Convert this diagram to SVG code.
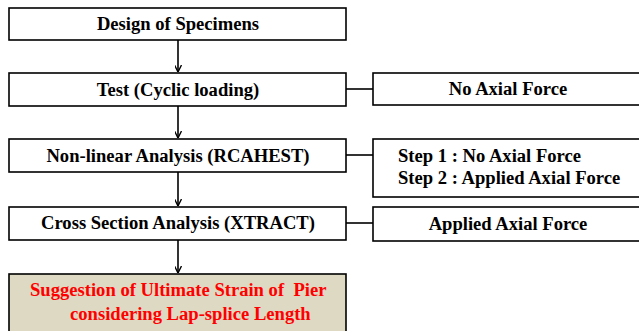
<svg xmlns="http://www.w3.org/2000/svg" width="639" height="331" viewBox="0 0 639 331">
<defs>
<style>
.box{fill:#fff;stroke:#000;stroke-width:1.6}
.t{font-family:"Liberation Serif","Times New Roman",serif;font-weight:bold;font-size:18.6px;fill:#000}
.c{text-anchor:middle}
.red{fill:#ff0000}
.ln{stroke:#000;stroke-width:1.6;fill:none}
</style>
<marker id="ah" viewBox="0 0 10 10" refX="10" refY="5" markerWidth="7" markerHeight="7" orient="auto" markerUnits="userSpaceOnUse">
<path d="M0,0 L10,5 L0,10" fill="none" stroke="#000" stroke-width="2"/>
</marker>
</defs>
<rect width="639" height="331" fill="#fff"/>
<g id="connectors">
<line class="ln" x1="178" y1="40" x2="178" y2="72" marker-end="url(#ah)"/>
<line class="ln" x1="178" y1="106" x2="178" y2="138" marker-end="url(#ah)"/>
<line class="ln" x1="178" y1="172" x2="178" y2="206" marker-end="url(#ah)"/>
<line class="ln" x1="178" y1="240" x2="178" y2="273" marker-end="url(#ah)"/>
<line class="ln" x1="346" y1="89" x2="373" y2="89"/>
<line class="ln" x1="346" y1="155" x2="373" y2="155"/>
<line class="ln" x1="346" y1="223" x2="373" y2="223"/>
</g>
<g id="n1"><rect class="box" x="9" y="8" width="337" height="32"/><text class="t c" x="178" y="30">Design of Specimens</text></g>
<g id="n2"><rect class="box" x="9" y="73" width="337" height="33"/><text class="t c" x="178" y="96">Test (Cyclic loading)</text></g>
<g id="n3"><rect class="box" x="9" y="139" width="337" height="33"/><text class="t c" x="178" y="162">Non-linear Analysis (RCAHEST)</text></g>
<g id="n4"><rect class="box" x="9" y="207" width="337" height="33"/><text class="t c" x="178" y="229">Cross Section Analysis (XTRACT)</text></g>
<g id="n5"><rect x="9" y="274" width="337" height="70" fill="#ddd9c3" stroke="#000" stroke-width="1.6"/><text class="t red" x="30" y="296" xml:space="preserve">Suggestion of Ultimate Strain of  Pier</text><text class="t red" x="70" y="320">considering Lap-splice Length</text></g>
<g id="r1"><rect class="box" x="373" y="73" width="280" height="32"/><text class="t c" x="508" y="95">No Axial Force</text></g>
<g id="r2"><rect class="box" x="373" y="139" width="280" height="58"/><text class="t" x="398" y="162">Step 1 : No Axial Force</text><text class="t" x="398" y="184">Step 2 : Applied Axial Force</text></g>
<g id="r3"><rect class="box" x="373" y="207" width="280" height="34"/><text class="t c" x="508" y="230">Applied Axial Force</text></g>
</svg>
